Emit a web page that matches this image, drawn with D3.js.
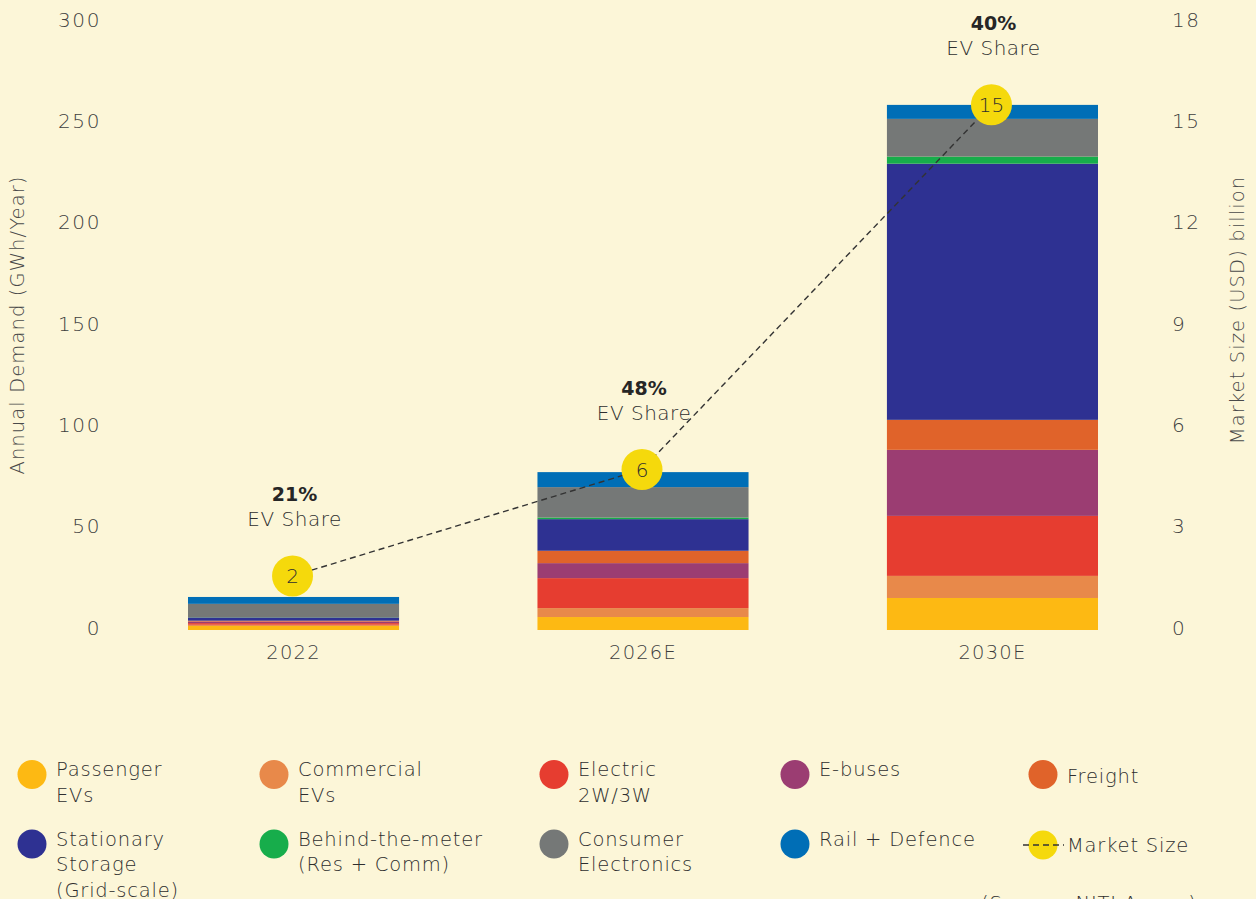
<!DOCTYPE html>
<html lang="en">
<head>
<meta charset="UTF-8">
<title>Battery demand</title>
<script src="https://d3js.org/d3.v7.min.js"></script>
<style>
  html, body { margin: 0; padding: 0; background: #fcf6d8; }
  svg { display: block; }
  text { font-family: "DejaVu Sans", "Noto Sans", sans-serif; font-weight: 300; fill: #2e2e2e; }
</style>
</head>
<body>
<div id="chart"></div>
<script>
// categories and series (GWh/year), bottom to top
const years = ["2022", "2026E", "2030E"];
const seriesNames = ["Passenger EVs", "Commercial EVs", "Electric 2W/3W", "E-buses", "Freight",
  "Stationary Storage (Grid-scale)", "Behind-the-meter (Res + Comm)", "Consumer Electronics", "Rail + Defence"];
const passenger  = [2.0, 6.4, 15.8];
const commercial = [0.6, 4.4, 10.9];
const twoThree   = [0.8, 14.8, 29.6];
const ebuses     = [0.8, 7.4, 32.6];
const freight    = [0.4, 6.1, 14.8];
const stationary = [1.6, 15.6, 126.4];
const behindMeter = [0.1, 0.8, 3.5];
const consumer   = [6.6, 15.0, 18.6];
const rail       = [3.4, 7.4, 6.9];
const colors = ["#fdb913", "#e8894a", "#e63d30", "#9b3d72", "#e0632a", "#2e3192", "#17ad4b", "#757877", "#006eb6"];

// market size (USD billion): labels, and marker heights as drawn on the right axis
const marketLabels = ["2", "6", "15"];
const marketPlot = [1.6, 4.75, 15.55];
const evShare = ["21%", "48%", "40%"];

const leftTicks = [0, 50, 100, 150, 200, 250, 300];
const rightTicks = [0, 3, 6, 9, 12, 15, 18];

const legendLines = [
  ["Passenger", "EVs"], ["Commercial", "EVs"], ["Electric", "2W/3W"], ["E-buses"], ["Freight"],
  ["Stationary", "Storage", "(Grid-scale)"], ["Behind-the-meter", "(Res + Comm)"], ["Consumer", "Electronics"], ["Rail + Defence"]
];

const W = 1256, H = 899;
const svg = d3.select("#chart").append("svg").attr("width", W).attr("height", H);
svg.append("rect").attr("width", W).attr("height", H).attr("fill", "#fcf6d8");

const x = d3.scaleBand().domain(years).range([188, 1098]).paddingInner(0.396).paddingOuter(0);
const y = d3.scaleLinear().domain([0, 300]).range([630, 22]);
const y2 = d3.scaleLinear().domain([0, 18]).range([630, 22]);

// stacked data
const allSeries = [passenger, commercial, twoThree, ebuses, freight, stationary, behindMeter, consumer, rail];
const table = years.map((yr, i) => {
  const row = { year: yr };
  seriesNames.forEach((s, k) => row[s] = allSeries[k][i]);
  return row;
});
const stacked = d3.stack().keys(seriesNames)(table);

svg.append("g").selectAll("g")
  .data(stacked)
  .join("g")
  .attr("fill", (d, i) => colors[i])
  .selectAll("rect")
  .data(d => d)
  .join("rect")
  .attr("x", d => x(d.data.year))
  .attr("width", x.bandwidth())
  .attr("y", d => y(d[1]))
  .attr("height", d => y(d[0]) - y(d[1]));

// axes
const styleTicks = sel => sel.selectAll("text")
  .attr("font-size", 20).attr("letter-spacing", 1.6).style("fill", "#3e3e3e");

const leftAxis = d3.axisLeft(y).tickValues(leftTicks).tickSize(0).tickPadding(0);
svg.append("g").attr("transform", "translate(101,0)").call(leftAxis)
  .call(g => g.select(".domain").remove())
  .call(styleTicks)
  .selectAll("text").attr("dy", "0.2em");

const rightAxis = d3.axisRight(y2).tickValues(rightTicks).tickSize(0).tickPadding(0);
svg.append("g").attr("transform", "translate(1172,0)").call(rightAxis)
  .call(g => g.select(".domain").remove())
  .call(styleTicks)
  .selectAll("text").attr("dy", "0.2em");

const bottomAxis = d3.axisBottom(x).tickSize(0).tickPadding(0);
svg.append("g").attr("transform", "translate(0,649)").call(bottomAxis)
  .call(g => g.select(".domain").remove())
  .call(styleTicks)
  .selectAll("text").attr("font-size", 19.5).attr("letter-spacing", 1.2).attr("dy", "0.5em");

// axis titles
svg.append("text")
  .attr("transform", "translate(24,325) rotate(-90)")
  .attr("text-anchor", "middle").attr("font-size", 19.5).attr("letter-spacing", 1.1).style("fill", "#4a4a4a")
  .text("Annual Demand (GWh/Year)");
svg.append("text")
  .attr("transform", "translate(1244,310) rotate(-90)")
  .attr("text-anchor", "middle").attr("font-size", 19.5).attr("letter-spacing", 1.1).style("fill", "#4a4a4a")
  .text("Market Size (USD) billion");

// market size line and markers
const cx = i => x(years[i]) + x.bandwidth() / 2 - 1;
const line = d3.line().x((d, i) => cx(i)).y(d => y2(d));
svg.append("path")
  .datum(marketPlot)
  .attr("d", line)
  .attr("fill", "none")
  .attr("stroke", "#333")
  .attr("stroke-width", 1.4)
  .attr("stroke-dasharray", "6,4");

const mk = svg.append("g").selectAll("g").data(marketPlot).join("g")
  .attr("transform", (d, i) => `translate(${cx(i)},${y2(d)})`);
mk.append("circle").attr("r", 20.5).attr("fill", "#f5d90c");
mk.append("text").attr("text-anchor", "middle").attr("dy", "0.36em")
  .attr("font-size", 20)
  .text((d, i) => marketLabels[i]);

// EV share annotations
const ann = svg.append("g").selectAll("g").data(marketPlot).join("g")
  .attr("transform", (d, i) => `translate(${cx(i) + 2},${y2(d)})`);
ann.append("text").attr("text-anchor", "middle").attr("y", -75)
  .attr("font-size", 19).style("font-weight", 700).style("fill", "#262626")
  .text((d, i) => evShare[i]);
ann.append("text").attr("text-anchor", "middle").attr("y", -50)
  .attr("font-size", 20).attr("letter-spacing", 0.5)
  .text("EV Share");

// legend
const colX = [32, 274, 554, 795, 1043];
const legend = svg.append("g");
legendLines.forEach((lines, i) => {
  const col = i % 5, row = Math.floor(i / 5);
  const cyL = row === 0 ? 774.5 : 844;
  const g = legend.append("g");
  g.append("circle").attr("cx", colX[col]).attr("cy", cyL).attr("r", 14.5).attr("fill", colors[i]);
  const baseY = (i === 4) ? cyL + 8 : cyL + 1.5;
  const t = g.append("text").attr("x", colX[col] + 24).attr("y", baseY)
    .attr("font-size", 19.5).attr("letter-spacing", 0.8);
  lines.forEach((ln, k) => {
    t.append("tspan").attr("x", colX[col] + 24).attr("dy", k === 0 ? 0 : 25.5).text(ln);
  });
});
// market size legend item
const mg = legend.append("g");
mg.append("circle").attr("cx", 1043).attr("cy", 845).attr("r", 14.5).attr("fill", "#f5d90c");
mg.append("line").attr("x1", 1023).attr("x2", 1064).attr("y1", 845).attr("y2", 845)
  .attr("stroke", "#333").attr("stroke-width", 1.3).attr("stroke-dasharray", "6,4");
mg.append("text").attr("x", 1067).attr("y", 851.5)
  .attr("font-size", 19.5).attr("letter-spacing", 0.8).text("Market Size");

// source (only its top shows at the page edge)
svg.append("text").attr("x", 981).attr("y", 910)
  .attr("font-size", 19.5).attr("letter-spacing", 0.8)
  .text("(Source: NITI Aayog)");
</script>
</body>
</html>
